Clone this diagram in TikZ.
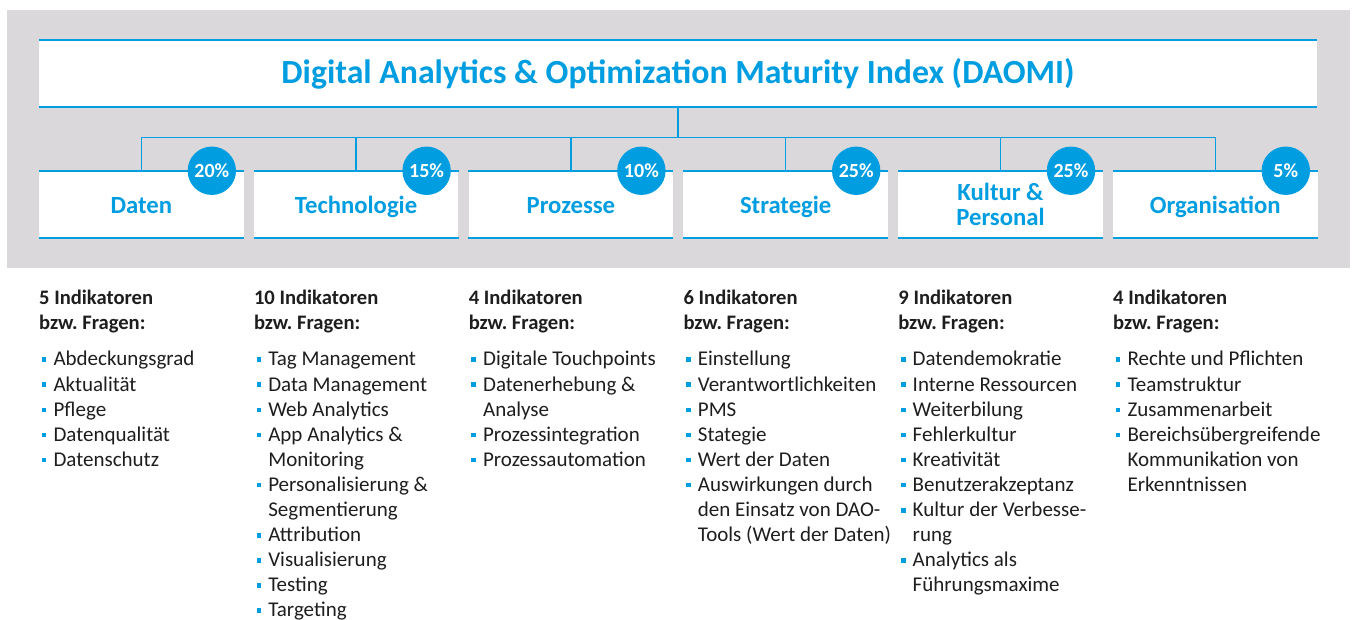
\documentclass[tikz,border=0pt]{standalone}
\usepackage{fontspec}
\setmainfont{Carlito}
\usetikzlibrary{calc}
\definecolor{daoblue}{RGB}{0,158,224}
\definecolor{daogray}{RGB}{218,216,219}
\definecolor{daotext}{RGB}{30,30,30}
\frenchspacing
\def\bul{\textcolor{daoblue}{\rule[4pt]{4.6pt}{4.6pt}}}
\def\itm#1{\makebox[14.3pt][l]{\hspace{2.6pt}\bul}&#1\\}
\def\cnt#1{&#1\\}
\def\hd#1#2{\multicolumn{2}{@{}l@{}}{\bfseries\fontsize{20.6}{25.1}\selectfont #1}\\
	\multicolumn{2}{@{}l@{}}{\bfseries\fontsize{20.6}{25.1}\selectfont #2}\\[11.6pt]}
\tikzset{
	titlebox/.style={fill=white, inner sep=0pt, minimum width=1278pt, minimum height=66.7pt,
		text=daoblue, font=\bfseries\fontsize{33.8}{36}\selectfont, text height=22pt, text depth=2pt},
	catbox/.style={fill=white, inner sep=0pt, minimum width=204.6pt, minimum height=66.7pt,
		text=daoblue, font=\bfseries\fontsize{24.7}{25.7}\selectfont, text height=19.8pt, text depth=1pt},
	badge/.style={circle, fill=daoblue, inner sep=0pt, minimum size=48.4pt,
		text=white, font=\bfseries\fontsize{20}{22}\selectfont},
	edge line/.style={daoblue, line width=1.8pt},
	conn/.style={daoblue, line width=1.3pt},
	listcol/.style={anchor=north west, inner sep=0pt, text=daotext, font=\fontsize{21}{25.1}\selectfont}
}
\begin{document}
\begin{tikzpicture}[x=1pt, y=-1pt]
		%%%%% START %%%%%
		\clip (0,0) rectangle (1352,620);
		\fill[white] (0,0) rectangle (1352,620);
		\fill[daogray] (7,10) rectangle (1350,268.5);
		
		% Kopf
		\node[titlebox] (title) at (678,73.3) {Digital Analytics \& Optimization Maturity Index (DAOMI)};
		
		% Dimensionen
		\node[catbox] (daten) at (141.3,204.3) {Daten};
		\node[catbox] (technologie) at (356.1,204.3) {Technologie};
		\node[catbox] (prozesse) at (570.9,204.3) {Prozesse};
		\node[catbox] (strategie) at (785.7,204.3) {Strategie};
		\node[catbox, align=center, text height={}, text depth={}] (kultur) at (1000.5,204.3) {Kultur \&\\Personal};
		\node[catbox] (organisation) at (1215.3,204.3) {Organisation};
		
		\foreach \n in {title,daten,technologie,prozesse,strategie,kultur,organisation} {
			\draw[edge line] (\n.north west) -- (\n.north east);
			\draw[edge line] (\n.south west) -- (\n.south east);
		}
		
		% Verbindungen
		\coordinate (hub) at (678,137.3);
		\draw[conn] (title.south) -- (hub);
		\foreach \n in {daten,technologie,prozesse,strategie,kultur,organisation}
			\draw[conn] (hub) -| (\n.north);
		
		% Gewichtung
		\node[badge] (w1) at ([xshift=-32pt]daten.north east) {20\%};
		\node[badge] (w2) at ([xshift=-32pt]technologie.north east) {15\%};
		\node[badge] (w3) at ([xshift=-32pt]prozesse.north east) {10\%};
		\node[badge] (w4) at ([xshift=-32pt]strategie.north east) {25\%};
		\node[badge] (w5) at ([xshift=-32pt]kultur.north east) {25\%};
		\node[badge] (w6) at ([xshift=-32pt]organisation.north east) {5\%};
		
		% Indikatoren
		\node[listcol] (liste1) at (39,286.4) {\begin{tabular}{@{}l@{}l@{}}
				\hd{5 Indikatoren}{bzw. Fragen:}
				\itm{Abdeckungsgrad}
				\itm{Aktualität}
				\itm{Pflege}
				\itm{Datenqualität}
				\itm{Datenschutz}
			\end{tabular}};
		\node[listcol] (liste2) at (253.8,286.4) {\begin{tabular}{@{}l@{}l@{}}
				\hd{10 Indikatoren}{bzw. Fragen:}
				\itm{Tag Management}
				\itm{Data Management}
				\itm{Web Analytics}
				\itm{App Analytics \&}
				\cnt{Monitoring}
				\itm{Personalisierung \&}
				\cnt{Segmentierung}
				\itm{Attribution}
				\itm{Visualisierung}
				\itm{Testing}
				\itm{Targeting}
			\end{tabular}};
		\node[listcol] (liste3) at (468.6,286.4) {\begin{tabular}{@{}l@{}l@{}}
				\hd{4 Indikatoren}{bzw. Fragen:}
				\itm{Digitale Touchpoints}
				\itm{Datenerhebung \&}
				\cnt{Analyse}
				\itm{Prozessintegration}
				\itm{Prozessautomation}
			\end{tabular}};
		\node[listcol] (liste4) at (683.4,286.4) {\begin{tabular}{@{}l@{}l@{}}
				\hd{6 Indikatoren}{bzw. Fragen:}
				\itm{Einstellung}
				\itm{Verantwortlichkeiten}
				\itm{PMS}
				\itm{Stategie}
				\itm{Wert der Daten}
				\itm{Auswirkungen durch}
				\cnt{den Einsatz von DAO-}
				\cnt{Tools (Wert der Daten)}
			\end{tabular}};
		\node[listcol] (liste5) at (898.2,286.4) {\begin{tabular}{@{}l@{}l@{}}
				\hd{9 Indikatoren}{bzw. Fragen:}
				\itm{Datendemokratie}
				\itm{Interne Ressourcen}
				\itm{Weiterbilung}
				\itm{Fehlerkultur}
				\itm{Kreativität}
				\itm{Benutzerakzeptanz}
				\itm{Kultur der Verbesse-}
				\cnt{rung}
				\itm{Analytics als}
				\cnt{Führungsmaxime}
			\end{tabular}};
		\node[listcol] (liste6) at (1113,286.4) {\begin{tabular}{@{}l@{}l@{}}
				\hd{4 Indikatoren}{bzw. Fragen:}
				\itm{Rechte und Pflichten}
				\itm{Teamstruktur}
				\itm{Zusammenarbeit}
				\itm{Bereichsübergreifende}
				\cnt{Kommunikation von}
				\cnt{Erkenntnissen}
			\end{tabular}};
		
		%%%%% END %%%%%
\end{tikzpicture}
\end{document}
